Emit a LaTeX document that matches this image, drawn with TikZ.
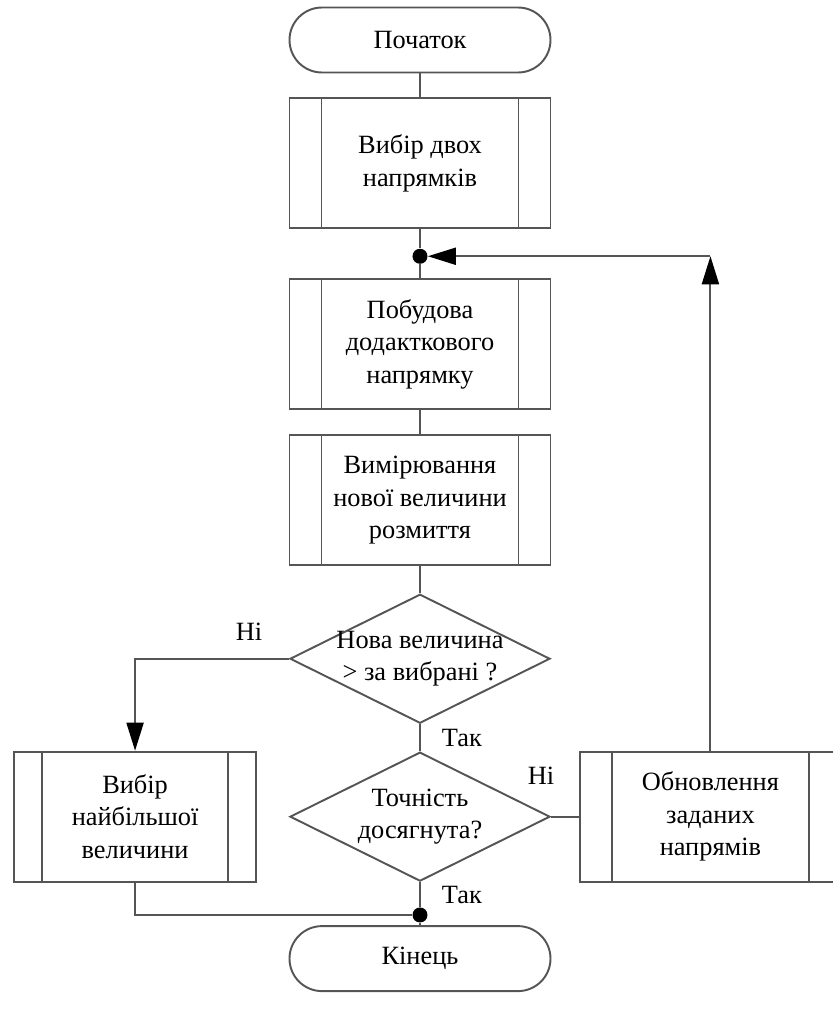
\documentclass[tikz,border=0pt]{standalone}
\usepackage{fontspec}
\setmainfont{Liberation Serif}
\usetikzlibrary{arrows.meta, positioning, shapes}
\definecolor{linegray}{RGB}{85,85,85}
\tikzstyle{startstop} = [rectangle, rounded corners=0.65cm, draw=linegray, line width=1.1pt, text centered, minimum width=5.22cm, minimum height=1.3cm]
\tikzstyle{decision} = [diamond, draw=linegray, line width=1.1pt, aspect=2, inner sep=-0.1cm, minimum width=5.2cm, minimum height=2.58cm, align=center]
\tikzstyle{joint} = [circle, fill=black, inner sep=0pt, minimum size=0.3cm]
\tikzstyle{link} = [draw=linegray, line width=1.1pt]
\tikzstyle{arrow} = [link, -{Triangle[length=0.56cm, width=0.34cm, color=black]}]
\tikzset{subprocess/.style={rectangle, draw=linegray, line width=1.1pt, align=center, minimum width=5.22cm, minimum height=2.6cm,
  path picture={
    \draw[linegray, line width=1.1pt] ([xshift=#1]path picture bounding box.north west) -- ([xshift=#1]path picture bounding box.south west);
    \draw[linegray, line width=1.1pt] ([xshift=-#1]path picture bounding box.north east) -- ([xshift=-#1]path picture bounding box.south east);}},
  subprocess/.default=0.64cm}

\begin{document}
\begin{tikzpicture}[node distance=0.5cm, font=\fontsize{15}{18.5}\selectfont]
\useasboundingbox (-8.4,0.8) rectangle (8.26,-19.46);
% Nodes
\node (start) [startstop] {Початок};
\node (choose) [subprocess, below=0.48cm of start] {Вибір двох\\напрямків};
\node (join1) [joint, below=0.38cm of choose] {};
\node (build) [subprocess, below=0.98cm of choose] {Побудова\\додакткового\\напрямку};
\node (measure) [subprocess, below=0.48cm of build] {Вимірювання\\нової величини\\розмиття};
\node (compare) [decision, below=0.54cm of measure] {Нова величина\\> за вибрані ?};
\node (accuracy) [decision, below=0.54cm of compare] {Точність\\досягнута?};
\node (best) [subprocess=0.56cm, minimum width=4.84cm, left=0.64cm of accuracy] {Вибір\\найбільшої\\величини};
\node (update) [subprocess, right=0.56cm of accuracy] {Обновлення\\заданих\\напрямів};
\node (join2) [joint, below=0.5cm of accuracy] {};
\node (finish) [startstop, below=0.86cm of accuracy] {Кінець};
\coordinate (turn) at (update.north |- join1);

% Connections
\draw [link] (start) -- (choose);
\draw [link] (choose) -- (join1);
\draw [link] (join1) -- (build);
\draw [link] (build) -- (measure);
\draw [link] (measure) -- (compare);

\draw [arrow] (compare.west) -| node[pos=0.13, above=0.22cm]{Ні} (best.north);
\draw [link] (compare) -- node[right=0.3cm]{Так} (accuracy);

\draw [link] (accuracy) -- node[pos=0, above=0.5cm, xshift=-0.2cm]{Ні} (update);
\draw [arrow] (update) -- (turn);
\draw [arrow] (turn) -- (join1);

\draw [link] (accuracy) -- node[right=0.3cm]{Так} (join2);
\draw [link] (best) |- (join2);
\draw [link] (join2) -- (finish);

\end{tikzpicture}
\end{document}
